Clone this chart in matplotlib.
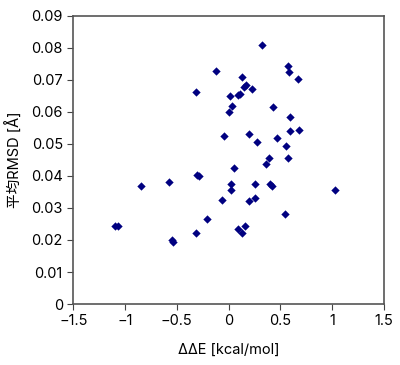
import matplotlib
matplotlib.use('Agg')
import matplotlib.pyplot as plt

plt.rcParams['font.family'] = ['Inter', 'Noto Sans CJK JP', 'DejaVu Sans']

# ΔΔE [kcal/mol] と 平均RMSD [Å]
dde = [0.32, -0.125, 0.576, 0.586, 0.67, 0.125, 0.164, 0.145, 0.225, -0.315,
       0.016, 0.109, 0.087, 0.032, 0.0, 0.428, 0.592, -0.042, 0.2, 0.27,
       0.466, 0.589, 0.679, 0.55, 0.39, 0.57, 0.36, 0.051, -0.309, -0.283,
       -0.579, -0.849, 0.022, 0.022, 0.258, 0.399, 0.422, 1.026, -0.065, 0.2,
       0.251, -0.206, 0.547, -1.097, -1.071, -0.319, 0.087, 0.157, 0.132,
       -0.547, -0.538]
rmsd = [0.0809, 0.0727, 0.0742, 0.0725, 0.0703, 0.0709, 0.0685, 0.0678, 0.0671, 0.0661,
        0.0648, 0.0657, 0.0651, 0.0618, 0.0598, 0.0616, 0.0583, 0.0524, 0.0532, 0.0505,
        0.0517, 0.0539, 0.0542, 0.0493, 0.0457, 0.0457, 0.04375, 0.0425, 0.0403, 0.0401,
        0.038, 0.0368, 0.0374, 0.0356, 0.0374, 0.0376, 0.0367, 0.0357, 0.0324, 0.0323,
        0.0331, 0.0267, 0.0282, 0.0243, 0.0245, 0.0223, 0.0235, 0.0244, 0.0223,
        0.02, 0.0194]

fig = plt.figure(figsize=(4, 3.65), dpi=100)
ax = fig.add_axes([0.183, 0.167, 0.777, 0.79])

ax.scatter(dde, rmsd, marker='D', s=18, color='#000080', linewidths=0)

ax.set_xlim(-1.5, 1.5)
ax.set_ylim(0, 0.09)
ax.set_xticks([-1.5, -1, -0.5, 0, 0.5, 1, 1.5])
ax.set_xticklabels(['\u22121.5', '\u22121', '\u22120.5', '0', '0.5', '1', '1.5'])
ax.set_yticks([0, 0.01, 0.02, 0.03, 0.04, 0.05, 0.06, 0.07, 0.08, 0.09])
ax.set_yticklabels(['0', '0.01', '0.02', '0.03', '0.04', '0.05', '0.06', '0.07', '0.08', '0.09'])
ax.tick_params(labelsize=10.5, length=4, width=0.8, color='#444444')

for s in ax.spines.values():
    s.set_color('#555555')
    s.set_linewidth(1.2)

ax.set_xlabel('ΔΔE [kcal/mol]', fontsize=10.5, labelpad=10)
ax.set_ylabel('平均RMSD [Å]', fontsize=10.5, labelpad=6)

fig.savefig('out.png')
